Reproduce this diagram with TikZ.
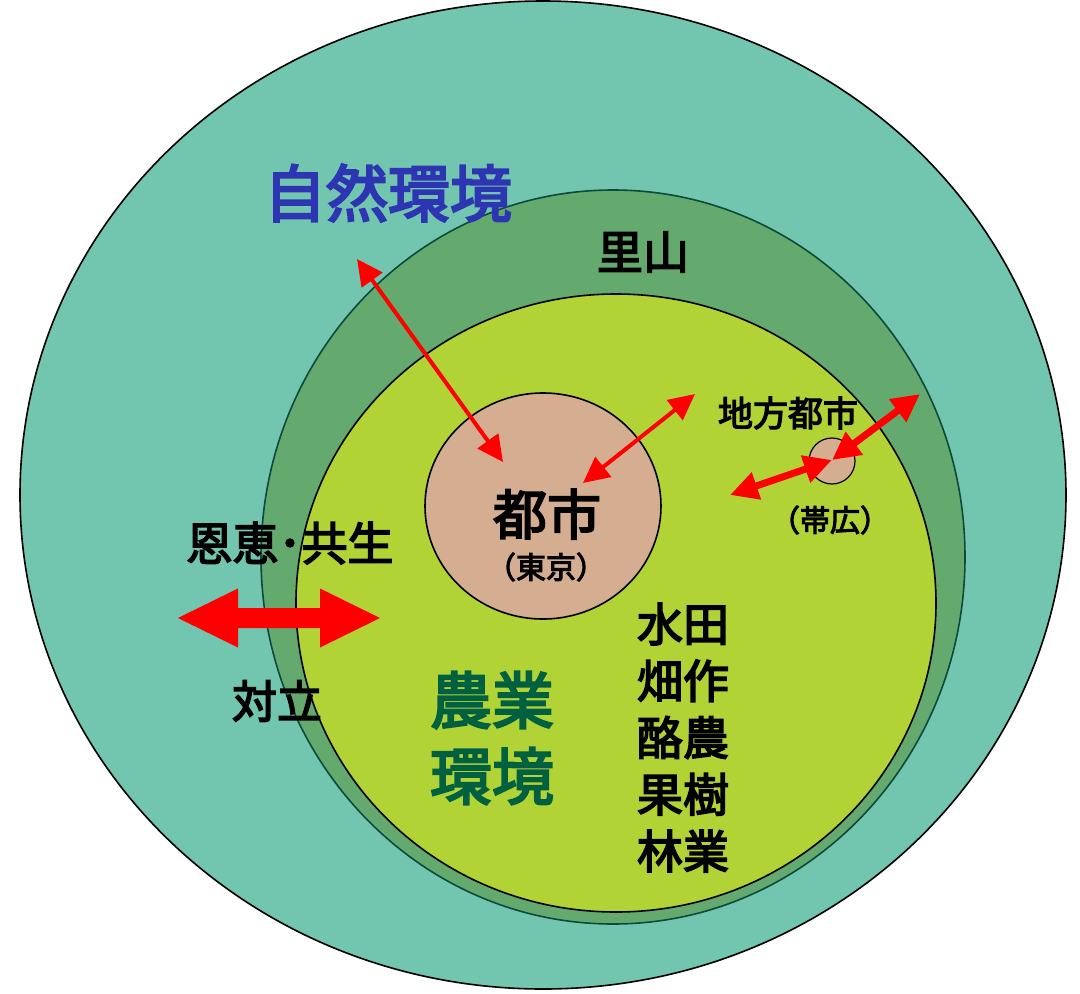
\documentclass[tikz,border=0pt]{standalone}
\usepackage{fontspec}
\setmainfont{Noto Sans CJK JP}[FakeBold=3.5]
\usetikzlibrary{calc}
\usetikzlibrary{arrows.meta}
\usetikzlibrary{shapes.geometric}

\definecolor{natgreen}{HTML}{72C5AE}
\definecolor{satogreen}{HTML}{64AA6E}
\definecolor{satoedge}{HTML}{0B4A3C}
\definecolor{agrigreen}{HTML}{B2D335}
\definecolor{citytan}{HTML}{D5AE91}
\definecolor{natblue}{HTML}{2E35B3}
\definecolor{agritext}{HTML}{006040}

\begin{document}
\begin{tikzpicture}[x=1pt, y=-1pt,
	zone/.style = {ellipse, inner sep=0pt, line width=1.6pt},
	lab/.style = {inner sep=0pt, align=center},
	thinarrow/.style = {red, line width=4pt, >={Triangle[length=26pt, width=25pt]}, <->},
	thickarrow/.style = {red, line width=7pt, >={Triangle[length=28pt, width=27pt]}, <->}
]
\useasboundingbox (0,0) rectangle (1080,994);

% Nested environments, from the outside in
\node[zone, draw=black, fill=natgreen, minimum width=1046pt, minimum height=988pt] (nature) at (543,495) {};
\node[zone, draw=satoedge, fill=satogreen, minimum width=704pt, minimum height=734pt] (satoyama) at (613,557) {};
\node[zone, draw=black, fill=agrigreen, minimum width=640pt, minimum height=618pt] (farm) at (616,603) {};
\node[zone, draw=black, fill=citytan, minimum width=236pt, minimum height=226pt] (tokyo) at (543,506) {};
\node[zone, draw=black, fill=citytan, line width=1.2pt, minimum width=46pt, minimum height=46pt] (obihiro) at (832,461) {};

% Labels
\node[lab, text=natblue, font=\fontsize{62pt}{62pt}\selectfont] (natlab) at (388,193) {自然環境};
\node[lab, font=\fontsize{46pt}{46pt}\selectfont] (satolab) at (643,252) {里山};
\node[lab, font=\fontsize{54pt}{54pt}\selectfont] (citylab) at (547,514) {都市};
\node[lab, font=\fontsize{30pt}{30pt}\selectfont] (tokyolab) at (546,567) {（東京）};
\node[lab, font=\fontsize{35pt}{35pt}\selectfont] (locallab) at (788,413) {地方都市};
\node[lab, font=\fontsize{30pt}{30pt}\selectfont] (obihirolab) at (830,520) {（帯広）};
\node[lab, font=\fontsize{46pt}{46pt}\selectfont] (benefitlab) at (290,543) {恩恵･共生};
\node[lab, font=\fontsize{45pt}{45pt}\selectfont] (conflictlab) at (277,701) {対立};
\node[lab, text=agritext, font=\fontsize{62pt}{76pt}\selectfont] (farmlab) at (492,738) {農業\\環境};

% Kinds of farming, one per line
\foreach \crop [count=\i] in {水田, 畑作, 酪農, 果樹, 林業} {
  \node[lab, font=\fontsize{46pt}{46pt}\selectfont] (crop\i) at (683,{567.25+56.75*\i}) {\crop};
}

% Exchanges between the city and its surroundings
\coordinate (natend) at (357,259);
\coordinate (tokyoN) at (503,462);
\coordinate (tokyoE) at (583,483);
\coordinate (farmend) at (695,394);
\draw[thinarrow] (tokyoN) -- (natend);
\draw[thinarrow] (tokyoE) -- (farmend);

\coordinate (obihiroC) at (832,460);
\coordinate (obihiroW) at (730,495);
\coordinate (obihiroNE) at (920,394);
\draw[thickarrow] (obihiroW) -- (obihiroC);
\draw[thickarrow] (obihiroC) -- (obihiroNE);

% Benefit / conflict between nature and farming
\coordinate (tension) at (279,618);
\fill[red] ($(tension)+(-101,0)$) -- ++(60,-29.5) -- ++(0,19.5) -- ++(82,0) -- ++(0,-19.5)
  -- ++(60,29.5) -- ++(-60,29.5) -- ++(0,-19.5) -- ++(-82,0) -- ++(0,19.5) -- cycle;

\end{tikzpicture}
\end{document}
